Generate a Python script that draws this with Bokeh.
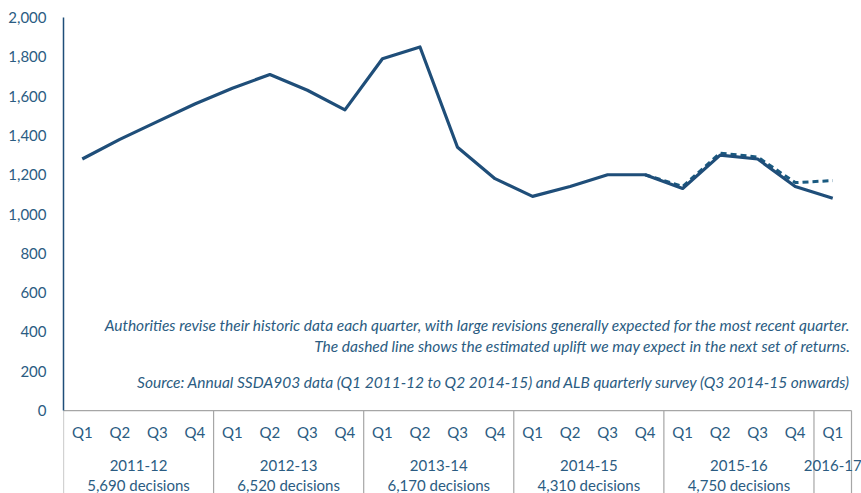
from bokeh.plotting import figure
from bokeh.models import Range1d, FixedTicker, NumeralTickFormatter, Label
from bokeh.core.properties import value
from bokeh.embed import file_html
from bokeh.resources import INLINE

# ---- data ----
years = ["2011-12", "2012-13", "2013-14", "2014-15", "2015-16", "2016-17"]
decisions = ["5,690 decisions", "6,520 decisions", "6,170 decisions",
             "4,310 decisions", "4,750 decisions", ""]
quarters_per_year = [4, 4, 4, 4, 4, 1]
quarter_labels = ["Q1", "Q2", "Q3", "Q4"]
actual = [1280, 1380, 1470, 1560, 1640, 1710, 1630, 1530,
          1790, 1850, 1340, 1180, 1090, 1140, 1200, 1200,
          1130, 1300, 1280, 1140, 1080]
# estimated uplift (dashed), from Q4 2014-15 to Q1 2016-17
est_start_index = 15
estimated = [1200, 1140, 1310, 1290, 1160, 1170]
y_ticks = [0, 200, 400, 600, 800, 1000, 1200, 1400, 1600, 1800, 2000]

LINE = "#1F4E79"
DASH = "#1A5A80"
TXT = "#2B5C82"
GRID = "#A6A6A6"

n = len(actual)
Y_MIN = -422
X_MAX = n + 10 / 37.52  # a little room right of the last category box

p = figure(width=861, height=493, output_backend="svg", toolbar_location=None,
           x_range=Range1d(0, X_MAX), y_range=Range1d(Y_MIN, 2000),
           x_axis_location=None, min_border_left=63, min_border_right=0,
           min_border_top=17, min_border_bottom=0)
p.outline_line_color = None
p.xgrid.visible = False
p.ygrid.visible = False
p.background_fill_color = "white"
p.border_fill_color = "white"

ax = p.yaxis[0]
ax.ticker = FixedTicker(ticks=y_ticks)
ax.bounds = (0, 2000)
ax.formatter = NumeralTickFormatter(format="0,0")
ax.major_tick_line_color = None
ax.minor_tick_line_color = None
ax.major_label_standoff = 11
ax.axis_line_color = LINE
ax.axis_line_width = 1.5
ax.major_label_text_font = "Lato"
ax.major_label_text_font_size = "15px"
ax.major_label_text_color = TXT

# category frame lines
bounds = [0]
for q in quarters_per_year:
    bounds.append(bounds[-1] + q)
p.segment(x0=bounds, x1=bounds, y0=[0] * len(bounds), y1=[Y_MIN] * len(bounds),
          line_color=GRID, line_width=1.2)
p.segment(x0=[0], x1=[n], y0=[0], y1=[0], line_color=GRID, line_width=1.2)

# quarter labels
qx, qt = [], []
for yi, q in enumerate(quarters_per_year):
    for k in range(q):
        qx.append(bounds[yi] + k + 0.5)
        qt.append(quarter_labels[k])
p.text(x=qx, y=[-111] * len(qx), text=qt, text_align="center", text_baseline="middle",
       text_font=value("Lato"), text_font_size="15px", text_color=TXT)

# year / decisions labels
gx = [(bounds[i] + bounds[i + 1]) / 2 for i in range(len(years))]
p.text(x=gx, y=[-279] * len(gx), text=years, text_align="center", text_baseline="middle",
       text_font=value("Lato"), text_font_size="15px", text_color=TXT)
p.text(x=gx, y=[-381] * len(gx), text=decisions, text_align="center", text_baseline="middle",
       text_font=value("Lato"), text_font_size="15px", text_color=TXT)

# lines
xs = [i + 0.5 for i in range(n)]
ex = [est_start_index + i + 0.5 for i in range(len(estimated))]
p.line(ex, estimated, line_color=DASH, line_width=3, line_dash="6 4")
p.line(xs, actual, line_color=LINE, line_width=3.2, line_join="round")

notes = [
    ("Authorities revise their historic data each quarter, with large revisions generally expected for the most recent quarter.", 433),
    ("The dashed line shows the estimated uplift we may expect in the next set of returns.", 331),
    ("Source: Annual SSDA903 data (Q1 2011-12 to Q2 2014-15) and ALB quarterly survey (Q3 2014-15 onwards)", 143),
]
for t, yy in notes:
    p.add_layout(Label(x=n - 0.02, y=yy, text=t, text_align="right", text_baseline="middle",
                       text_font="Lato", text_font_style="italic", text_font_size="15.5px",
                       text_color=TXT))

open("out.html", "w").write(file_html(p, INLINE))
